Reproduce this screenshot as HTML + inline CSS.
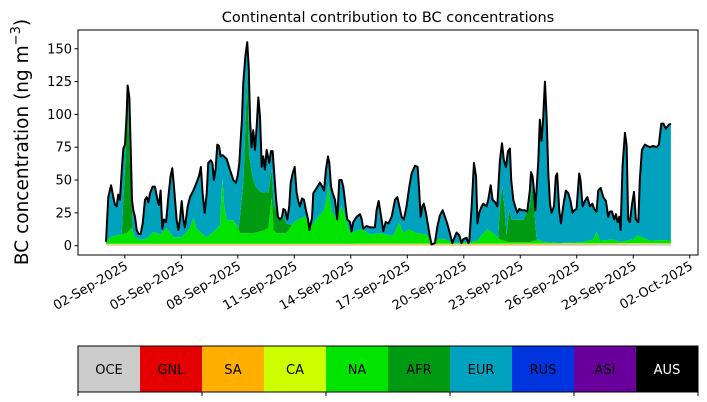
<!DOCTYPE html>
<html><head><meta charset="utf-8">
<style>
html,body{margin:0;padding:0;background:#fff;}
svg{display:block;font-family:"DejaVu Sans","Liberation Sans",sans-serif;}
</style></head>
<body>
<svg id="chart" width="707" height="402" viewBox="0 0 707 402" xmlns="http://www.w3.org/2000/svg">
<text x="388" y="22" font-size="14.5" text-anchor="middle">Continental contribution to BC concentrations</text>
<text transform="translate(28,142) rotate(-90)" font-size="18.5" text-anchor="middle">BC concentration (ng m<tspan font-size="13" dy="-8">−3</tspan><tspan dy="8">)</tspan></text>
<g id="layers"></g>
<g id="axes"></g>
<g id="legend"></g>
</svg>
<script>
// time in days since 01-Sep-2025 00:00
const totalDays = [0,.12,.27,.39,.48,.57,.65,.74,.85,.92,1.01,1.10,1.15,1.24,1.31,1.38,1.45,1.54,1.63,1.72,1.84,1.95,2.07,2.16,2.25,2.34,2.48,2.60,2.73,2.81,2.90,2.99,3.08,3.19,3.31,3.43,3.52,3.61,3.75,3.84,3.93,4.02,4.11,4.19,4.34,4.46,4.64,4.81,4.94,5.04,5.13,5.24,5.35,5.43,5.56,5.65,5.73,5.82,5.91,6.00,6.09,6.18,6.27,6.41,6.58,6.76,6.90,6.99,7.08,7.15,7.22,7.29,7.40,7.50,7.58,7.65,7.73,7.82,7.91,8.00,8.09,8.18,8.27,8.35,8.44,8.53,8.67,8.76,8.85,8.92,9.03,9.13,9.24,9.35,9.42,9.52,9.63,9.73,9.81,9.91,10.02,10.12,10.21,10.30,10.41,10.51,10.62,10.73,10.80,10.87,10.94,11.01,11.19,11.36,11.45,11.58,11.68,11.79,11.86,11.95,12.04,12.16,12.28,12.39,12.51,12.60,12.71,12.81,12.96,13.04,13.13,13.31,13.49,
13.58,13.66,13.84,14.02,14.28,14.37,14.48,14.58,14.73,14.85,15.0,15.17,15.35,15.47,15.61,15.70,15.82,15.96,16.11,16.23,16.41,16.55,16.64,16.71,16.80,16.88,16.99,17.12,17.20,17.29,17.47,17.59,17.73,17.88,18.0,18.12,18.27,18.39,18.53,18.62,18.76,18.88,18.97,19.15,19.24,19.29,19.42,19.54,19.65,19.73,19.82,19.95,20.04,20.21,20.30,20.43,20.53,20.67,20.78,20.92,21.03,21.13,21.24,21.35,21.45,21.52,21.63,21.73,21.84,21.95,22.09,22.23,22.37,22.51,22.57,22.65,22.73,22.80,22.96,23.04,23.13,23.22,23.31,23.40,23.49,23.58,23.66,23.79,23.89,23.96,24.07,24.16,24.28,24.42,24.55,24.67,24.78,24.87,24.99,25.13,25.20,25.31,25.43,25.56,25.70,25.83,25.93,26.05,26.14,26.27,26.41,26.55,26.67,26.76,26.87,26.99,27.08,27.17,27.26,27.33,27.43,27.56,27.65,27.73,27.82,27.93,28.04,28.14,28.27,28.35,28.46,28.62,28.74,28.88,29.06,29.24,29.36,29.49,29.60,29.73,29.88,30.0];
const totalBC = [3,37,46,37,31,30,39,35,60,74,77,101,122,113,75,35,27,22,12,9,9,17,35,37,33,40,45,45,35,31,42,13,20,18,37,53,59,45,20,12,20,34,20,14,30,37,42,48,53,60,40,25,40,63,65,63,50,58,77,76,68,69,68,66,58,50,48,53,63,80,96,124,144,155,136,96,75,88,73,90,113,98,60,68,58,73,63,72,72,58,36,22,20,22,28,27,20,30,48,55,60,41,34,30,36,35,27,20,12,17,21,40,44,48,46,42,58,68,63,45,40,35,20,50,50,45,32,20,18,11,18,22,24,
20,13,15,14,14,27,34,25,11,18,17,22,35,37,28,22,20,30,45,55,61,60,40,22,30,32,25,14,7,1,2,14,23,27,22,17,9,2,7,10,8,2,5,6,2,3,30,63,53,17,25,30,32,30,35,46,35,33,30,65,78,65,60,72,74,50,35,30,25,28,27,27,26,42,56,53,42,27,65,96,80,98,125,98,55,32,25,30,53,55,27,17,30,42,40,34,25,27,28,55,50,30,34,37,30,32,28,26,42,44,37,34,22,26,26,20,24,18,22,12,60,86,76,20,18,31,41,20,18,50,73,77,76,75,76,75,77,93,93,89,92,93];

const naDays = [0,.21,.74,1.10,1.36,1.54,1.81,2.16,2.51,2.87,3.22,3.58,4.02,4.46,4.64,4.81,4.99,5.35,5.70,6.05,6.12,6.19,6.27,6.41,6.76,6.94,7.12,7.47,7.82,8.35,8.62,8.80,8.90,9.06,9.59,9.95,10.30,10.57,10.83,11.19,11.54,11.72,11.81,11.89,11.98,12.25,12.51,12.69,12.96,13.49,13.58,14.02,14.55,14.9,15.25,15.57,15.79,16.05,16.50,17.03,17.29,17.73,18.09,18.44,19.33,19.68,20.25,20.57,20.92,21.45,22.51,22.96,23.22,24.11,25.35,25.88,26.05,26.23,26.94,27.29,28.01,28.22,28.88,30];
const naBC = [0.5,5,7,8,12,5,3,4,9,7,12,5,5,12,20,12,9,5,9,14,35,50,30,18,18,14,8,8,8,10,12,35,10,8,8,16,19,21,12,19,25,34,46,34,25,19,29,21,8,11,11,7,8,7,6,16,8,11,8,7,0.5,4,3,0.5,1,2,11,8,3,1,1,3,1,0.3,1,3,9,2,3,1,3,6,2,2.5];

const afrDays = [0,0.83,1.01,1.15,1.27,1.42,7.03,7.2,7.3,7.4,7.5,7.6,7.75,7.95,8.2,8.55,8.9,9.2,9.5,9.86,20.83,20.92,21.06,21.19,21.27,21.42,21.54,21.81,22.16,22.51,22.65,22.78,22.87,30];
const afrBC = [0,0,50,102,54,0,0,25,40,80,125,60,45,35,30,28,20,15,10,0,0,26,41,21,5,25,17,17,17,27,44,17,0,0];

const minorDays = [0,10,20,30];
const oceBC = [0.8,0.7,0.6,1.2];
const saBC = [0.4,0.5,0.6,0.4];
const caBC = [0.3,0.3,0.4,0.3];

const regionNames = ["OCE","GNL","SA","CA","NA","AFR","EUR","RUS","ASI","AUS"];
const regionColors = ["#cccccc","#e40000","#ffaf00","#ccff00","#00e400","#009b12","#00a2be","#0034de","#6a009c","#000000"];
const tickLabels = ["02-Sep-2025","05-Sep-2025","08-Sep-2025","11-Sep-2025","14-Sep-2025","17-Sep-2025","20-Sep-2025","23-Sep-2025","26-Sep-2025","29-Sep-2025","02-Oct-2025"];
const tickDays = [1,4,7,10,13,16,19,22,25,28,31];
const yTicks = [0,25,50,75,100,125,150];

const NS = "http://www.w3.org/2000/svg";
const X0=78, X1=698, Y0=30, Y1=255;
const xs = d => 106 + d*18.83;
const ys = v => 245.7 - v*1.313;
function interp(ts, vs, t){
  if(t<=ts[0]) return vs[0];
  for(let i=1;i<ts.length;i++){ if(t<=ts[i]){ const f=(t-ts[i-1])/(ts[i]-ts[i-1]||1); return vs[i-1]+f*(vs[i]-vs[i-1]); } }
  return vs[vs.length-1];
}
function mk(tag, attrs, parent){ const e=document.createElementNS(NS,tag); for(const k in attrs) e.setAttribute(k,attrs[k]); parent.appendChild(e); return e; }

const grid = Array.from(new Set([...totalDays,...naDays,...afrDays])).filter(t=>t>=0&&t<=30).sort((a,b)=>a-b);
const tot = grid.map(t=>interp(totalDays,totalBC,t));
const comps = [
  grid.map(t=>interp(minorDays,oceBC,t)),
  grid.map(()=>0),
  grid.map(t=>interp(minorDays,saBC,t)),
  grid.map(t=>interp(minorDays,caBC,t)),
  grid.map(t=>interp(naDays,naBC,t)),
  grid.map(t=>interp(afrDays,afrBC,t))
];
const layers = document.getElementById('layers');
let lower = grid.map(()=>0);
for(let k=0;k<7;k++){
  let upper;
  if(k<6) upper = lower.map((l,i)=>Math.min(tot[i], l+comps[k][i]));
  else upper = tot.slice();
  let d = "M"+grid.map((t,i)=>xs(t).toFixed(2)+","+ys(upper[i]).toFixed(2)).join("L");
  for(let i=grid.length-1;i>=0;i--) d += "L"+xs(grid[i]).toFixed(2)+","+ys(lower[i]).toFixed(2);
  d += "Z";
  const p = mk('path',{d:d,fill:regionColors[k],stroke:'none'},layers);
  
  
  lower = upper;
}
const line = mk('path',{d:"M"+totalDays.map((t,i)=>xs(t).toFixed(2)+","+ys(totalBC[i]).toFixed(2)).join("L"),fill:'none',stroke:'#000','stroke-width':2,'stroke-linejoin':'round'},layers);



const axes = document.getElementById('axes');
const frame = mk('rect',{x:X0,y:Y0,width:X1-X0,height:Y1-Y0,fill:'none',stroke:'#000','stroke-width':1},axes);


yTicks.forEach(v=>{
  const y=ys(v);
  const tk=mk('line',{x1:X0-3.5,x2:X0,y1:y,y2:y,stroke:'#000'},axes);
  
  
  const tx=mk('text',{x:X0-6,y:y+4.5,'font-size':13,'text-anchor':'end'},axes);
  tx.textContent=v;
  
  
});
tickDays.forEach((d,i)=>{
  const x=xs(d);
  const tk=mk('line',{x1:x,x2:x,y1:Y1,y2:Y1+3.5,stroke:'#000'},axes);
  
  
  const tx=mk('text',{transform:`translate(${x+2},${Y1+10}) rotate(-30)`,'font-size':13,'text-anchor':'end',y:4},axes);
  tx.textContent=tickLabels[i];
  
  
});

const lg = document.getElementById('legend');
const bw=(X1-X0)/regionNames.length;
regionNames.forEach((n,i)=>{
  const r=mk('rect',{x:X0+i*bw,y:346,width:bw+0.5,height:46,fill:regionColors[i]},lg);
  
  
  const t=mk('text',{x:X0+i*bw+bw/2,y:374,'font-size':13,'text-anchor':'middle',fill:n==="AUS"?"#fff":"#000"},lg);
  t.textContent=n;
  
  
});
const lf=mk('rect',{x:X0,y:346,width:X1-X0,height:46,fill:'none',stroke:'#000','stroke-width':1},lg);


for(let i=0;i<=5;i++){
  const x=X0+i*2*bw;
  const tk=mk('line',{x1:x,x2:x,y1:392,y2:396,stroke:'#000'},lg);
  
  
}
</script>
</body></html>
